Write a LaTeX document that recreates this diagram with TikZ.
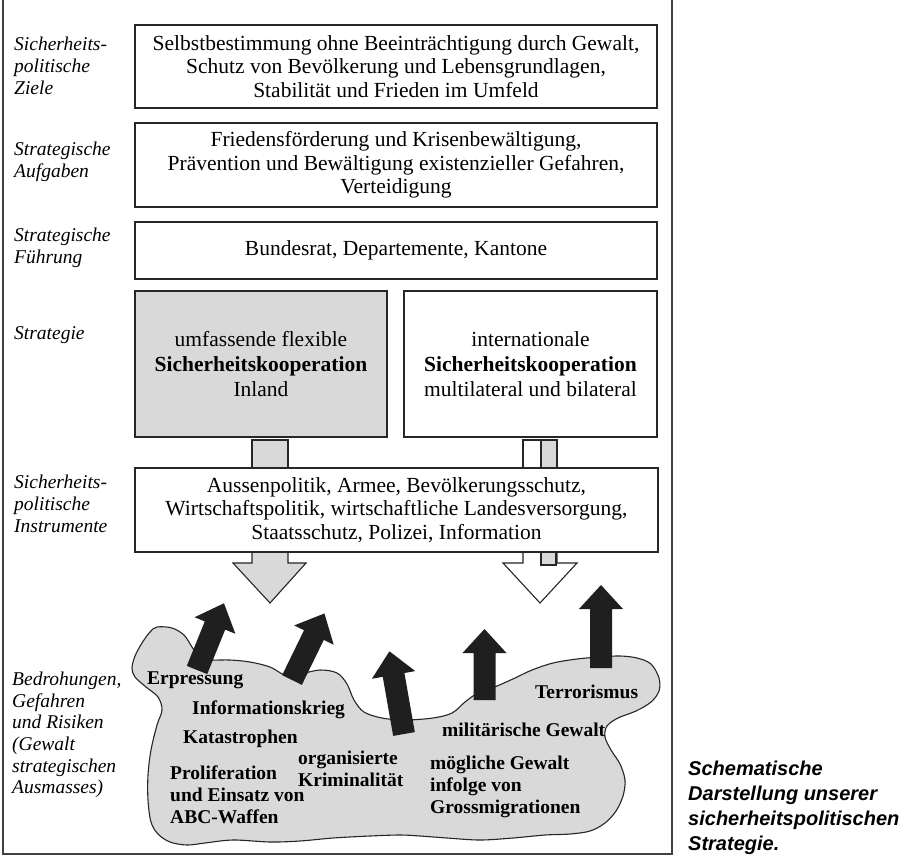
\documentclass[tikz,border=0pt]{standalone}
\usepackage{fontspec}
\setmainfont{Liberation Serif}
\newfontfamily\capfont{Liberation Sans}
\usetikzlibrary{calc}
\tikzset{
  box/.style={draw=black!85, line width=1.1pt, inner sep=0pt, align=center,
              font=\fontsize{21.5}{23.5}\selectfont},
  graybox/.style={box, fill=gray!30},
  whitebox/.style={box, fill=white},
  lbl/.style={anchor=west, align=left, inner sep=0pt,
              font=\fontsize{19.5}{21.7}\selectfont\itshape},
  threat/.style={anchor=west, align=left, inner sep=0pt,
              font=\fontsize{19.5}{21.8}\selectfont\bfseries},
  captiontext/.style={anchor=west, align=left, inner sep=0pt,
              font=\capfont\fontsize{20}{25}\selectfont\bfseries\itshape},
  blk/.style={fill=black!88},
  blockarrow/.style={draw=black!85, line width=1.1pt, line join=miter}
}
% black thick arrow: start x, start y, angle, length
\newcommand\threatarrow[4]{%
  \begin{scope}[shift={(#1,#2)},rotate=#3]
    \fill[blk] (0,-11) -- ({#4-24},-11) -- ({#4-24},-22) -- (#4,0)
      -- ({#4-24},22) -- ({#4-24},11) -- (0,11) -- cycle;
  \end{scope}}
\begin{document}
\begin{tikzpicture}[x=1pt,y=-1pt]
\useasboundingbox (0,0) rectangle (901,859);
\clip (0,0) rectangle (901,859);
\fill[white] (0,0) rectangle (901,859);

% outer frame
\draw[line width=1.8pt, black!75] (3,-10) -- (3,854) -- (672,854) -- (672,-10);

% left labels
\node[lbl] (lz) at (14,66) {Sicherheits-\\politische\\Ziele};
\node[lbl] (la) at (14,162) {Strategische\\Aufgaben};
\node[lbl] (lf) at (14,248) {Strategische\\Führung};
\node[lbl] (ls) at (14,335) {Strategie};
\node[lbl] (li) at (14,504) {Sicherheits-\\politische\\Instrumente};
\node[lbl] (lb) at (12,735) {Bedrohungen,\\Gefahren\\und Risiken\\(Gewalt\\strategischen\\Ausmasses)};

% boxes
\node[whitebox, minimum width=522, minimum height=83] (b1) at (396,66.5)
  {Selbstbestimmung ohne Beeinträchtigung durch Gewalt,\\Schutz von Bevölkerung und Lebensgrundlagen,\\Stabilität und Frieden im Umfeld};
\node[whitebox, minimum width=522, minimum height=84] (b2) at (396,165)
  {Friedensförderung und Krisenbewältigung,\\Prävention und Bewältigung existenzieller Gefahren,\\Verteidigung};
\node[whitebox, minimum width=522, minimum height=57] (b3) at (396,250.5)
  {Bundesrat, Departemente, Kantone};
\node[graybox, minimum width=252, minimum height=146, font=\fontsize{21.5}{25}\selectfont] (b4) at (261,364)
  {umfassende flexible\\\textbf{Sicherheitskooperation}\\Inland};
\node[whitebox, minimum width=253, minimum height=146, font=\fontsize{21.5}{25}\selectfont] (b5) at (530.5,364)
  {internationale\\\textbf{Sicherheitskooperation}\\multilateral und bilateral};

% connectors from strategy boxes to instruments
\draw[blockarrow, fill=gray!30] (252,440) rectangle (288,468);
\draw[blockarrow, fill=white] (523,440) rectangle (541,468);
\draw[blockarrow, fill=gray!30] (541,440) rectangle (557,468);

% down arrows below instruments
\draw[blockarrow, fill=gray!30] (252,550) -- (252,563) -- (233,563) -- (270,603)
  -- (306,563) -- (288,563) -- (288,550);
\draw[blockarrow, fill=white] (523,550) -- (523,563) -- (503,563) -- (540,603)
  -- (577,563) -- (557,563) -- (557,550);
\draw[blockarrow, fill=gray!30] (541,550) rectangle (556,565);

\node[whitebox, minimum width=523, minimum height=84] (b6) at (396.5,510)
  {Aussenpolitik, Armee, Bevölkerungsschutz,\\Wirtschaftspolitik, wirtschaftliche Landesversorgung,\\Staatsschutz, Polizei, Information};

% threat cloud
\draw[line width=1.1pt, black!85, fill=gray!30] plot[smooth cycle, tension=0.55] coordinates {
 (157,627) (172,628) (184,635) (192,647) (200,658) (212,660) (230,660) (250,662)
 (270,667) (285,675) (300,674) (320,670) (337,673) (347,684) (354,700) (364,712)
 (382,718) (405,720) (433,718) (452,713) (465,702) (478,693) (497,686) (515,678)
 (532,670) (553,663) (577,659) (600,657) (620,656) (637,658) (651,664) (659,678)
 (659,691) (651,702) (636,711) (618,718) (607,726) (605,737) (611,750) (620,764)
 (625,780) (623,796) (616,811) (605,823) (590,831) (570,834) (545,835) (513,838)
 (480,840) (447,838) (420,836) (400,835) (370,836) (333,838) (300,841) (270,842)
 (233,840) (205,843) (187,845) (170,842) (158,834) (151,822) (148,800) (148,775)
 (151,750) (157,725) (162,710) (158,697) (146,687) (135,677) (132,668) (135,656)
 (142,643) (150,632)};

% black arrows (threats acting upwards)
\threatarrow{197}{670}{68}{72}
\threatarrow{292}{680}{64}{74}
\threatarrow{404}{734}{100}{84}
\threatarrow{484.5}{700}{90}{71}
\threatarrow{601}{668}{90}{83}

% threat labels
\node[threat] (t1) at (147,680) {Erpressung};
\node[threat] (t2) at (192,710) {Informationskrieg};
\node[threat] (t3) at (183,739) {Katastrophen};
\node[threat] (t4) at (170,795) {Proliferation\\und Einsatz von\\ABC-Waffen};
\node[threat] (t5) at (298,769) {organisierte\\Kriminalität};
\node[threat] (t6) at (535,692) {Terrorismus};
\node[threat] (t7) at (442,730) {militärische Gewalt};
\node[threat] (t8) at (430,787) {mögliche Gewalt\\infolge von\\Grossmigrationen};

% caption
\node[captiontext] (captionnode) at (688,808) {Schematische\\Darstellung unserer\\sicherheitspolitischen\\Strategie.};
\end{tikzpicture}
\end{document}
